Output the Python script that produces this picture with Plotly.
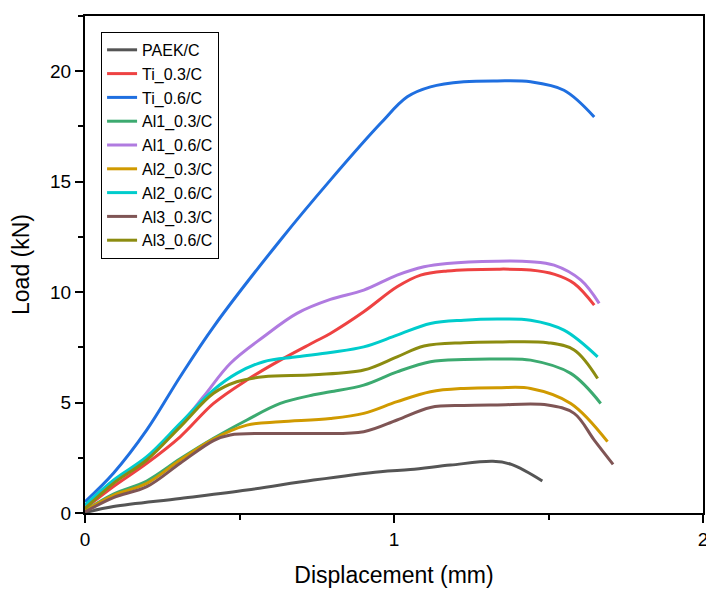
import plotly.graph_objects as go

names = ["PAEK/C", "Ti_0.3/C", "Ti_0.6/C", "Al1_0.3/C", "Al1_0.6/C",
         "Al2_0.3/C", "Al2_0.6/C", "Al3_0.3/C", "Al3_0.6/C"]
colors = ["#555555", "#EE4242", "#1F6FE0", "#3CAA70", "#B07BE0",
          "#D09A00", "#00CCCC", "#7F5555", "#8C8C10"]

paek_x = [0, 0.092, 0.308, 0.524, 0.74, 0.956, 1.053, 1.183, 1.32, 1.38, 1.48]
paek_y = [0.02, 0.29, 0.66, 1.04, 1.49, 1.87, 1.97, 2.17, 2.34, 2.2, 1.45]

ti03_x = [0, 0.092, 0.2, 0.308, 0.416, 0.524, 0.632, 0.74, 0.794, 0.902, 1.01, 1.086, 1.172, 1.334, 1.442, 1.52, 1.583, 1.648]
ti03_y = [0.21, 1.2, 2.25, 3.45, 4.96, 6.02, 6.92, 7.73, 8.13, 9.11, 10.24, 10.77, 10.96, 11.04, 11.0, 10.8, 10.39, 9.41]

ti06_x = [0, 0.092, 0.2, 0.308, 0.416, 0.632, 0.794, 0.956, 1.043, 1.118, 1.226, 1.334, 1.442, 1.55, 1.648]
ti06_y = [0.51, 1.8, 3.76, 6.17, 8.43, 12.35, 15.07, 17.63, 18.84, 19.29, 19.52, 19.56, 19.52, 19.14, 17.93]

al103_x = [0, 0.092, 0.2, 0.308, 0.416, 0.524, 0.632, 0.74, 0.794, 0.902, 1.01, 1.118, 1.226, 1.334, 1.442, 1.572, 1.669]
al103_y = [0.1, 0.85, 1.45, 2.45, 3.38, 4.21, 4.96, 5.35, 5.49, 5.79, 6.39, 6.85, 6.95, 6.97, 6.92, 6.32, 4.96]

al106_x = [0, 0.092, 0.2, 0.308, 0.383, 0.47, 0.578, 0.686, 0.794, 0.902, 1.01, 1.097, 1.172, 1.334, 1.442, 1.518, 1.605, 1.664]
al106_y = [0.3, 1.45, 2.5, 4.0, 5.26, 6.77, 7.98, 9.04, 9.67, 10.09, 10.77, 11.15, 11.30, 11.40, 11.38, 11.22, 10.54, 9.49]

al203_x = [0, 0.092, 0.2, 0.308, 0.416, 0.524, 0.632, 0.794, 0.902, 1.01, 1.118, 1.226, 1.334, 1.442, 1.572, 1.691]
al203_y = [0.1, 0.8, 1.34, 2.4, 3.35, 3.98, 4.13, 4.28, 4.51, 5.04, 5.49, 5.64, 5.67, 5.64, 4.96, 3.23]

al206_x = [0, 0.092, 0.2, 0.308, 0.416, 0.491, 0.578, 0.686, 0.794, 0.902, 1.01, 1.118, 1.226, 1.334, 1.442, 1.55, 1.659]
al206_y = [0.36, 1.49, 2.55, 4.06, 5.57, 6.32, 6.85, 7.07, 7.27, 7.52, 8.05, 8.58, 8.73, 8.78, 8.73, 8.28, 7.07]

al303_x = [0, 0.092, 0.2, 0.308, 0.416, 0.47, 0.578, 0.74, 0.902, 1.01, 1.118, 1.226, 1.334, 1.497, 1.583, 1.648, 1.709]
al303_y = [0.05, 0.7, 1.19, 2.25, 3.28, 3.53, 3.60, 3.60, 3.68, 4.21, 4.78, 4.87, 4.89, 4.89, 4.51, 3.30, 2.20]

al306_x = [0, 0.092, 0.2, 0.308, 0.416, 0.491, 0.578, 0.74, 0.902, 1.01, 1.097, 1.226, 1.334, 1.497, 1.583, 1.659]
al306_y = [0.2, 1.34, 2.4, 3.9, 5.42, 5.94, 6.17, 6.26, 6.47, 7.07, 7.56, 7.71, 7.74, 7.71, 7.38, 6.09]

xs = [paek_x, ti03_x, ti06_x, al103_x, al106_x, al203_x, al206_x, al303_x, al306_x]
ys = [paek_y, ti03_y, ti06_y, al103_y, al106_y, al203_y, al206_y, al303_y, al306_y]

x_ticks = [0, 1, 2]
y_ticks = [0, 5, 10, 15, 20]

fig = go.Figure()
for n, c, x, y in zip(names, colors, xs, ys):
    fig.add_trace(go.Scatter(x=x, y=y, name=n, mode="lines",
                             line=dict(color=c, width=3, shape="spline", smoothing=1.0)))

axis_common = dict(
    showline=True, linecolor="black", linewidth=2, mirror=True,
    ticks="outside", ticklen=8, tickwidth=1.5, tickcolor="black",
    showgrid=False, zeroline=False, automargin=False,
    ticklabeloverflow="allow",
    tickfont=dict(family="Liberation Sans, Arial", size=19, color="black"),
)

fig.update_xaxes(range=[0, 2], tickvals=x_ticks,
                 minor=dict(ticks="outside", ticklen=5, tickwidth=1.5, tickcolor="black", dtick=0.5),
                 title=dict(text="Displacement (mm)", standoff=18,
                            font=dict(family="Liberation Sans, Arial", size=23, color="black")),
                 **axis_common)
fig.update_yaxes(range=[0, 22.5], tickvals=y_ticks,
                 minor=dict(ticks="outside", ticklen=5, tickwidth=1.5, tickcolor="black", dtick=2.5),
                 title=dict(text="Load (kN)", standoff=14,
                            font=dict(family="Liberation Sans, Arial", size=23, color="black")),
                 **axis_common)

fig.update_layout(
    width=706, height=590,
    margin=dict(l=85, r=3, t=16, b=77),
    plot_bgcolor="white", paper_bgcolor="white",
    font=dict(family="Liberation Sans, Arial", color="black"),
    legend=dict(x=0.026, y=0.968, xanchor="left", yanchor="top",
                bordercolor="black", borderwidth=1, bgcolor="white",
                font=dict(family="Liberation Sans, Arial", size=16, color="black"),
                tracegroupgap=0, itemwidth=30),
    showlegend=True,
)

fig.write_html("out.html")
